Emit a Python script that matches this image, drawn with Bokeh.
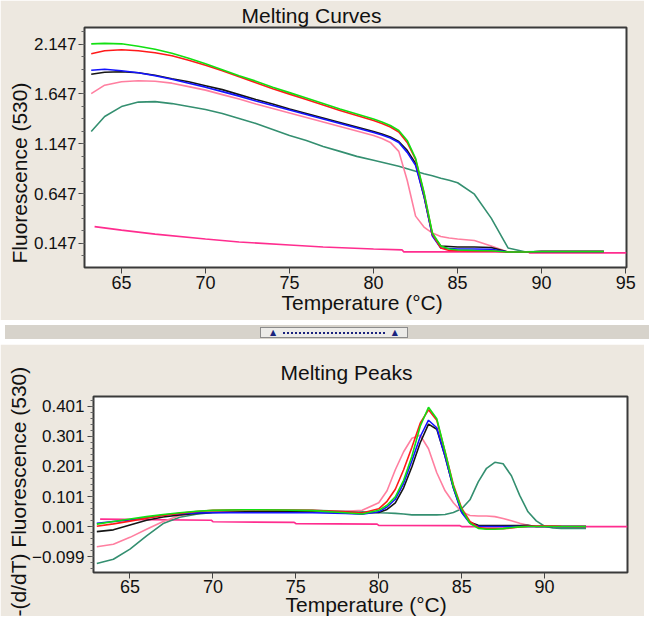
from bokeh.plotting import figure
from bokeh.models import Range1d, FixedTicker, Div, BasicTickFormatter, Title
from bokeh.layouts import column
from bokeh.embed import file_html
from bokeh.resources import INLINE

# ---------------- data: Melting Curves ----------------
T_CURVE = [63.2, 64, 65, 66, 67, 68, 69, 70, 71, 72, 73, 74, 75, 76, 77, 78, 79, 80,
           80.5, 81, 81.5, 82, 82.5, 83, 83.5, 84, 84.5, 85, 86, 87, 88, 89, 90, 91, 92, 93, 93.7]
CURVE_GREEN = [2.15, 2.155, 2.15, 2.125, 2.095, 2.055, 2.005, 1.95, 1.89, 1.83, 1.775, 1.715, 1.66,
               1.605, 1.55, 1.495, 1.445, 1.395, 1.365, 1.33, 1.28, 1.18, 1.0, 0.66, 0.25, 0.12,
               0.09, 0.08, 0.075, 0.072, 0.06, 0.06, 0.065, 0.065, 0.065, 0.065, 0.065]
CURVE_RED = [2.05, 2.08, 2.09, 2.08, 2.06, 2.03, 1.985, 1.935, 1.88, 1.82, 1.76, 1.70, 1.645,
             1.59, 1.535, 1.48, 1.43, 1.38, 1.35, 1.315, 1.265, 1.16, 0.99, 0.65, 0.24, 0.10,
             0.075, 0.072, 0.07, 0.07, 0.06, 0.06, 0.065, 0.065, 0.065, 0.065, 0.065]
CURVE_BLUE = [1.885, 1.895, 1.88, 1.86, 1.83, 1.795, 1.755, 1.715, 1.67, 1.625, 1.575, 1.53, 1.485,
              1.44, 1.395, 1.35, 1.305, 1.26, 1.235, 1.205, 1.16, 1.06, 0.93, 0.62, 0.22, 0.10,
              0.095, 0.09, 0.09, 0.088, 0.06, 0.06, 0.065, 0.065, 0.065, 0.065, 0.065]
CURVE_BLACK = [1.845, 1.865, 1.87, 1.86, 1.835, 1.80, 1.77, 1.73, 1.69, 1.64, 1.59, 1.545, 1.495,
               1.45, 1.405, 1.36, 1.315, 1.27, 1.245, 1.215, 1.17, 1.08, 0.95, 0.62, 0.23, 0.12,
               0.115, 0.11, 0.11, 0.105, 0.06, 0.06, 0.065, 0.065, 0.065, 0.065, 0.065]
CURVE_PINK = [1.65, 1.735, 1.77, 1.78, 1.775, 1.755, 1.72, 1.685, 1.64, 1.595, 1.545, 1.50, 1.455,
              1.41, 1.365, 1.32, 1.275, 1.23, 1.20, 1.16, 1.07, 0.78, 0.42, 0.31, 0.25, 0.215,
              0.20, 0.19, 0.175, 0.12, 0.06, 0.06, 0.065, 0.065, 0.065, 0.065, 0.065]
CURVE_TEAL = [1.27, 1.42, 1.52, 1.565, 1.57, 1.55, 1.52, 1.49, 1.45, 1.40, 1.35, 1.29, 1.23,
              1.18, 1.12, 1.07, 1.02, 0.98, 0.96, 0.94, 0.92, 0.895, 0.87, 0.845, 0.825, 0.80,
              0.78, 0.755, 0.64, 0.40, 0.10, 0.062, 0.065, 0.065, 0.065, 0.065, 0.065]
T_CURVE_MAG = [63.4, 65, 67, 70, 72, 75, 77, 80, 81.7, 81.8, 89.2, 89.3, 95.05]
CURVE_MAG = [0.315, 0.28, 0.24, 0.19, 0.16, 0.13, 0.11, 0.09, 0.08, 0.061, 0.061, 0.05, 0.05]

CURVE_XTICKS = [65, 70, 75, 80, 85, 90, 95]
CURVE_YTICKS = [0.147, 0.647, 1.147, 1.647, 2.147]

# ---------------- data: Melting Peaks ----------------
T_PEAK = [63.0, 64, 65, 66, 67, 68, 69, 70, 72, 74, 76, 78, 79, 80, 80.5, 81, 81.5, 82, 82.5,
          83, 83.5, 84, 84.5, 85, 85.5, 86, 86.5, 87, 87.5, 88, 88.5, 89, 89.5, 90, 90.5, 91, 92, 92.5]
PEAK_GREEN = [0.009, 0.018, 0.026, 0.034, 0.041, 0.047, 0.052, 0.055, 0.057, 0.056, 0.054, 0.047,
              0.043, 0.055, 0.072, 0.10, 0.155, 0.235, 0.335, 0.398, 0.36, 0.25, 0.135, 0.058,
              0.012, -0.005, -0.008, -0.008, -0.006, -0.002, 0.0, 0.001, 0.001, 0.001, 0.001,
              0.001, 0.001, 0.001]
PEAK_RED = [0.002, 0.010, 0.019, 0.029, 0.038, 0.045, 0.051, 0.055, 0.057, 0.056, 0.055, 0.050,
            0.046, 0.060, 0.085, 0.125, 0.19, 0.265, 0.345, 0.39, 0.355, 0.25, 0.14, 0.062,
            0.018, -0.002, -0.006, -0.006, -0.006, -0.004, 0.0, 0.002, 0.003, 0.003, 0.003,
            0.002, 0.001, 0.001]
PEAK_BLUE = [0.012, 0.018, 0.023, 0.030, 0.039, 0.044, 0.046, 0.047, 0.047, 0.047, 0.047, 0.045,
             0.042, 0.050, 0.066, 0.092, 0.145, 0.22, 0.30, 0.355, 0.33, 0.235, 0.13, 0.048,
             0.012, 0.002, 0.001, 0.001, 0.001, 0.001, 0.001, 0.001, 0.001, 0.001, 0.001,
             0.001, 0.001, 0.001]
PEAK_BLACK = [-0.016, -0.010, 0.006, 0.022, 0.033, 0.040, 0.045, 0.048, 0.050, 0.052, 0.052, 0.049,
              0.046, 0.048, 0.058, 0.080, 0.13, 0.20, 0.28, 0.342, 0.325, 0.235, 0.13, 0.05,
              0.015, 0.005, 0.004, 0.004, 0.004, 0.004, 0.004, 0.005, 0.001, 0.001, 0.001,
              0.001, 0.001, 0.001]
PEAK_PINK = [-0.066, -0.058, -0.035, -0.008, 0.018, 0.038, 0.047, 0.050, 0.052, 0.052, 0.052, 0.052,
             0.055, 0.080, 0.12, 0.19, 0.25, 0.295, 0.305, 0.26, 0.18, 0.12, 0.08, 0.05,
             0.038, 0.036, 0.036, 0.034, 0.028, 0.020, 0.012, 0.005, 0.001, 0.001, 0.001,
             0.001, 0.001, 0.001]
PEAK_TEAL = [-0.122, -0.108, -0.074, -0.030, 0.011, 0.032, 0.042, 0.048, 0.053, 0.055, 0.055, 0.052,
             0.050, 0.047, 0.046, 0.045, 0.043, 0.040, 0.040, 0.040, 0.040, 0.041, 0.048, 0.060,
             0.090, 0.150, 0.195, 0.215, 0.210, 0.170, 0.105, 0.050, 0.020, 0.002, -0.004,
             -0.005, -0.005, -0.005]
T_PEAK_MAG = [63.2, 66, 69.9, 70.0, 74.9, 75.0, 79.9, 80.0, 84.9, 85.0, 95.0]
PEAK_MAG = [0.026, 0.024, 0.022, 0.017, 0.015, 0.011, 0.009, 0.005, 0.004, 0.001, 0.001]

PEAK_XTICKS = [65, 70, 75, 80, 85, 90]
PEAK_YTICKS = [-0.099, 0.001, 0.101, 0.201, 0.301, 0.401]

# ---------------- styling ----------------
BEIGE = "#ede8e0"
FONT = "Liberation Sans"
TXT = "#111111"
COLORS = {
    "green": "#12e012",
    "red": "#ff1a1a",
    "blue": "#1414ff",
    "black": "#151515",
    "pink": "#ff7fa0",
    "teal": "#348f70",
    "mag": "#ff2d8f",
}


def style(p, xticks, yticks, yminor, ystandoff, xstandoff):
    try:
        p.frame_align = False
    except Exception:
        pass
    p.xgrid.visible = False
    p.ygrid.visible = False
    p.outline_line_color = "#3a3a3a"
    p.outline_line_width = 2
    p.xaxis.ticker = FixedTicker(ticks=xticks, minor_ticks=[])
    p.yaxis.ticker = FixedTicker(ticks=yticks, minor_ticks=yminor)
    p.yaxis.formatter = BasicTickFormatter(precision=3, use_scientific=False)
    for ax in (p.xaxis[0], p.yaxis[0]):
        ax.axis_line_color = None
        ax.major_tick_in = 0
        ax.major_tick_out = 6
        ax.minor_tick_in = 0
        ax.minor_tick_out = 3
        ax.major_tick_line_color = "#444444"
        ax.minor_tick_line_color = "#666666"
        ax.major_label_text_font = FONT
        ax.major_label_text_color = TXT
    p.xaxis.major_label_text_font_size = "18px"
    p.yaxis.major_label_text_font_size = "17px"
    p.yaxis.major_label_standoff = ystandoff
    p.xaxis.major_label_standoff = xstandoff


def set_title(p, text, offset, standoff):
    p.title.text = text
    p.title.align = "left"
    p.title.offset = offset
    p.title.standoff = standoff
    p.title.text_font = FONT
    p.title.text_font_size = "21px"
    p.title.text_font_style = "normal"
    p.title.text_color = TXT


def side_text(p, text, side, offset, standoff, valign="bottom"):
    p.add_layout(Title(text=text, align="left", offset=offset, standoff=standoff,
                       vertical_align=valign, text_font=FONT, text_font_size="21px",
                       text_font_style="normal", text_color=TXT), side)


# ---------- top: Melting Curves ----------
p1 = figure(width=644, height=320, x_range=Range1d(62.8, 95.05), y_range=Range1d(-0.096, 2.314),
            output_backend="svg", toolbar_location=None,
            min_border_left=84, min_border_right=18, min_border_top=26, min_border_bottom=53,
            background_fill_color="white", border_fill_color=BEIGE)
minor1 = [round(0.147 + 0.125 * k, 4) for k in range(-1, 18)]
style(p1, CURVE_XTICKS, CURVE_YTICKS, minor1, 2, 2)
set_title(p1, "Melting Curves", 157, 2)
side_text(p1, "Temperature (°C)", "below", 197, -2, "top")
side_text(p1, "Fluorescence (530)", "left", 4, 0)

p1.line(T_CURVE_MAG, CURVE_MAG, color=COLORS["mag"], line_width=1.7)
for key, ys in (("teal", CURVE_TEAL), ("pink", CURVE_PINK), ("black", CURVE_BLACK),
                ("blue", CURVE_BLUE), ("red", CURVE_RED), ("green", CURVE_GREEN)):
    p1.line(T_CURVE, ys, color=COLORS[key], line_width=1.6)

# ---------- divider ----------
divider = Div(width=644, height=14, text=(
    '<div style="position:relative;width:644px;height:14px;background:#d7d3cb;">'
    '<div style="position:absolute;left:255px;top:2px;width:148px;height:11px;'
    'border:1px solid #8c8c8c;background:#ecebe8;box-sizing:border-box;">'
    '<span style="position:absolute;left:9px;top:-1px;font-size:8px;color:#1a237e;font-family:DejaVu Sans;">&#9650;</span>'
    '<div style="position:absolute;left:22px;right:22px;top:4px;border-top:2px dotted #1a237e;"></div>'
    '<span style="position:absolute;right:9px;top:-1px;font-size:8px;color:#1a237e;font-family:DejaVu Sans;">&#9650;</span>'
    '</div></div>'))

# ---------- bottom: Melting Peaks ----------
p2 = figure(width=644, height=272, x_range=Range1d(62.8, 95.0), y_range=Range1d(-0.152, 0.434),
            output_backend="svg", toolbar_location=None,
            min_border_left=93, min_border_right=17, min_border_top=52, min_border_bottom=44,
            background_fill_color="white", border_fill_color=BEIGE)
minor2 = [round(0.001 + 0.02 * k, 4) for k in range(-7, 22)]
style(p2, PEAK_XTICKS, PEAK_YTICKS, minor2, 3, 1)
set_title(p2, "Melting Peaks", 187, 26)
side_text(p2, "Temperature (°C)", "below", 192, -5, "top")
side_text(p2, "-(d/dT) Fluorescence (530)", "left", -44, 0)

p2.line(T_PEAK_MAG, PEAK_MAG, color=COLORS["mag"], line_width=1.7)
for key, ys in (("teal", PEAK_TEAL), ("pink", PEAK_PINK), ("black", PEAK_BLACK),
                ("blue", PEAK_BLUE), ("red", PEAK_RED), ("green", PEAK_GREEN)):
    p2.line(T_PEAK, ys, color=COLORS[key], line_width=1.6)

layout = column(p1, divider, p2, spacing=0)
open("out.html", "w").write(file_html(layout, INLINE))
